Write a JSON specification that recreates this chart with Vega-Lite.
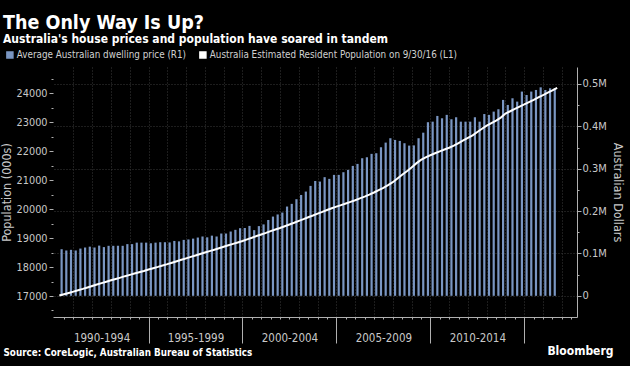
{
  "$schema": "https://vega.github.io/schema/vega-lite/v6.json",
  "width": 524,
  "height": 250,
  "autosize": {"type": "none"},
  "padding": {"left": 53, "top": 67, "right": 53, "bottom": 49},
  "background": "#000000",
  "title": {
    "text": "The Only Way Is Up?",
    "subtitle": "Australia's house prices and population have soared in tandem",
    "anchor": "start",
    "frame": "group",
    "dx": -50,
    "dy": 0
  },
  "data": {
    "values": [
      {"t": 1990.25, "pop": 17015},
      {"t": 1990.5, "price": 110000, "pop": 17060},
      {"t": 1990.75, "price": 107000, "pop": 17105},
      {"t": 1991, "price": 108500, "pop": 17150},
      {"t": 1991.25, "price": 107000, "pop": 17200},
      {"t": 1991.5, "price": 111500, "pop": 17245},
      {"t": 1991.75, "price": 114000, "pop": 17295},
      {"t": 1992, "price": 116000, "pop": 17345},
      {"t": 1992.25, "price": 114000, "pop": 17395},
      {"t": 1992.5, "price": 118500, "pop": 17445},
      {"t": 1992.75, "price": 115000, "pop": 17495},
      {"t": 1993, "price": 118000, "pop": 17545},
      {"t": 1993.25, "price": 118000, "pop": 17590},
      {"t": 1993.5, "price": 118000, "pop": 17635},
      {"t": 1993.75, "price": 118000, "pop": 17685},
      {"t": 1994, "price": 122000, "pop": 17730},
      {"t": 1994.25, "price": 122000, "pop": 17775},
      {"t": 1994.5, "price": 125500, "pop": 17820},
      {"t": 1994.75, "price": 125500, "pop": 17865},
      {"t": 1995, "price": 125500, "pop": 17915},
      {"t": 1995.25, "price": 124000, "pop": 17960},
      {"t": 1995.5, "price": 125500, "pop": 18005},
      {"t": 1995.75, "price": 126500, "pop": 18055},
      {"t": 1996, "price": 126500, "pop": 18100},
      {"t": 1996.25, "price": 126000, "pop": 18150},
      {"t": 1996.5, "price": 129500, "pop": 18200},
      {"t": 1996.75, "price": 128500, "pop": 18250},
      {"t": 1997, "price": 132000, "pop": 18300},
      {"t": 1997.25, "price": 133000, "pop": 18350},
      {"t": 1997.5, "price": 135000, "pop": 18400},
      {"t": 1997.75, "price": 137500, "pop": 18450},
      {"t": 1998, "price": 140000, "pop": 18500},
      {"t": 1998.25, "price": 138000, "pop": 18550},
      {"t": 1998.5, "price": 142000, "pop": 18600},
      {"t": 1998.75, "price": 140000, "pop": 18650},
      {"t": 1999, "price": 147000, "pop": 18700},
      {"t": 1999.25, "price": 147000, "pop": 18750},
      {"t": 1999.5, "price": 151700, "pop": 18800},
      {"t": 1999.75, "price": 155700, "pop": 18850},
      {"t": 2000, "price": 159600, "pop": 18900},
      {"t": 2000.25, "price": 160000, "pop": 18955},
      {"t": 2000.5, "price": 165000, "pop": 19010},
      {"t": 2000.75, "price": 155000, "pop": 19070},
      {"t": 2001, "price": 164500, "pop": 19125},
      {"t": 2001.25, "price": 168500, "pop": 19180},
      {"t": 2001.5, "price": 179000, "pop": 19240},
      {"t": 2001.75, "price": 187000, "pop": 19295},
      {"t": 2002, "price": 192000, "pop": 19350},
      {"t": 2002.25, "price": 196500, "pop": 19410},
      {"t": 2002.5, "price": 210700, "pop": 19470},
      {"t": 2002.75, "price": 217000, "pop": 19530},
      {"t": 2003, "price": 228000, "pop": 19595},
      {"t": 2003.25, "price": 238000, "pop": 19655},
      {"t": 2003.5, "price": 246000, "pop": 19720},
      {"t": 2003.75, "price": 259400, "pop": 19780},
      {"t": 2004, "price": 271000, "pop": 19845},
      {"t": 2004.25, "price": 269600, "pop": 19905},
      {"t": 2004.5, "price": 280000, "pop": 19970},
      {"t": 2004.75, "price": 276000, "pop": 20030},
      {"t": 2005, "price": 285400, "pop": 20085},
      {"t": 2005.25, "price": 285400, "pop": 20140},
      {"t": 2005.5, "price": 291700, "pop": 20195},
      {"t": 2005.75, "price": 297200, "pop": 20250},
      {"t": 2006, "price": 306600, "pop": 20305},
      {"t": 2006.25, "price": 311300, "pop": 20370},
      {"t": 2006.5, "price": 324700, "pop": 20430},
      {"t": 2006.75, "price": 327000, "pop": 20500},
      {"t": 2007, "price": 335000, "pop": 20575},
      {"t": 2007.25, "price": 336500, "pop": 20655},
      {"t": 2007.5, "price": 350600, "pop": 20735},
      {"t": 2007.75, "price": 361600, "pop": 20830},
      {"t": 2008, "price": 371900, "pop": 20930},
      {"t": 2008.25, "price": 367900, "pop": 21060},
      {"t": 2008.5, "price": 365600, "pop": 21190},
      {"t": 2008.75, "price": 360100, "pop": 21310},
      {"t": 2009, "price": 354500, "pop": 21440},
      {"t": 2009.25, "price": 355000, "pop": 21580},
      {"t": 2009.5, "price": 371900, "pop": 21700},
      {"t": 2009.75, "price": 385000, "pop": 21790},
      {"t": 2010, "price": 409700, "pop": 21860},
      {"t": 2010.25, "price": 411000, "pop": 21930},
      {"t": 2010.5, "price": 424500, "pop": 21995},
      {"t": 2010.75, "price": 419000, "pop": 22060},
      {"t": 2011, "price": 427000, "pop": 22120},
      {"t": 2011.25, "price": 416700, "pop": 22190},
      {"t": 2011.5, "price": 421400, "pop": 22280},
      {"t": 2011.75, "price": 411000, "pop": 22370},
      {"t": 2012, "price": 411000, "pop": 22460},
      {"t": 2012.25, "price": 411000, "pop": 22550},
      {"t": 2012.5, "price": 421400, "pop": 22665},
      {"t": 2012.75, "price": 411000, "pop": 22775},
      {"t": 2013, "price": 429000, "pop": 22880},
      {"t": 2013.25, "price": 427000, "pop": 22970},
      {"t": 2013.5, "price": 434700, "pop": 23060},
      {"t": 2013.75, "price": 440300, "pop": 23160},
      {"t": 2014, "price": 462300, "pop": 23300},
      {"t": 2014.25, "price": 450500, "pop": 23380},
      {"t": 2014.5, "price": 466200, "pop": 23460},
      {"t": 2014.75, "price": 458300, "pop": 23540},
      {"t": 2015, "price": 482000, "pop": 23615},
      {"t": 2015.25, "price": 474000, "pop": 23695},
      {"t": 2015.5, "price": 482000, "pop": 23775},
      {"t": 2015.75, "price": 485800, "pop": 23860},
      {"t": 2016, "price": 492000, "pop": 23940},
      {"t": 2016.25, "price": 485800, "pop": 24020},
      {"t": 2016.5, "price": 489800, "pop": 24100},
      {"t": 2016.75, "price": 489800, "pop": 24185}
    ]
  },
  "layer": [
    {
      "mark": {"type": "bar", "width": 2.2, "xOffset": -2.4},
      "encoding": {
        "x": {
          "field": "t",
          "type": "quantitative",
          "scale": {"domain": [1990.18, 2017.54], "nice": false, "zero": false},
          "axis": {
            "orient": "bottom",
            "title": "Source: CoreLogic, Australian Bureau of Statistics",
            "titleAnchor": "start",
            "titleAlign": "left",
            "titleBaseline": "middle",
            "titleX": -50,
            "titleY": 35,
            "titleFontSize": 9.8,
            "titleFontWeight": "bold",
            "titleColor": "#ffffff",
            "values": [1990.5, 1991, 1991.5, 1992, 1992.5, 1993, 1993.5, 1994, 1994.5, 1995, 1995.5, 1996, 1996.5, 1997, 1997.5, 1998, 1998.5, 1999, 1999.5, 2000, 2000.5, 2001, 2001.5, 2002, 2002.5, 2003, 2003.5, 2004, 2004.5, 2005, 2005.5, 2006, 2006.5, 2007, 2007.5, 2008, 2008.5, 2009, 2009.5, 2010, 2010.5, 2011, 2011.5, 2012, 2012.5, 2013, 2013.5, 2014, 2014.5, 2015, 2015.5, 2016, 2016.5, 2017, 2017.5],
            "labelExpr": "datum.value == 1992.5 ? '1990-1994' : datum.value == 1997.5 ? '1995-1999' : datum.value == 2002.5 ? '2000-2004' : datum.value == 2007.5 ? '2005-2009' : datum.value == 2012.5 ? '2010-2014' : ''",
            "labelOverlap": false,
            "labelFlush": false,
            "labelFontSize": 11.5,
            "labelPadding": 13,
            "tickSize": {"condition": {"test": "datum.value % 5 == 0", "value": 26}, "value": 2},
            "grid": true,
            "gridOpacity": {"condition": {"test": "datum.value % 1 == 0", "value": 1}, "value": 0}
          }
        },
        "y": {
          "field": "price",
          "type": "quantitative",
          "scale": {"domain": [-50000, 540000], "nice": false},
          "axis": {
            "orient": "right",
            "title": "Australian Dollars",
            "titleFontSize": 12.5,
            "values": [0, 50000, 100000, 150000, 200000, 250000, 300000, 350000, 400000, 450000, 500000],
            "labelExpr": "datum.value == 0 ? '0' : datum.value % 100000 == 0 ? format(datum.value / 1000000, '.1f') + 'M' : ''",
            "tickSize": {"condition": {"test": "datum.value % 100000 == 0", "value": 4}, "value": 2},
            "labelPadding": 1,
            "labelFontSize": 11,
            "grid": true,
            "gridOpacity": {"condition": {"test": "datum.value % 100000 == 0", "value": 1}, "value": 0}
          }
        },
        "color": {
          "datum": "Average Australian dwelling price (R1)",
          "scale": {
            "domain": ["Average Australian dwelling price (R1)", "Australia Estimated Resident Population  on 9/30/16 (L1)"],
            "range": ["#7a96c2", "#ffffff"]
          },
          "legend": {
            "orient": "none",
            "legendX": -48,
            "legendY": -17,
            "direction": "horizontal",
            "title": null,
            "symbolType": "square",
            "symbolSize": 36,
            "labelFontSize": 9.8,
            "labelColor": "#d0d0d0",
            "columnPadding": 9,
            "labelOffset": 2,
            "labelLimit": 400,
            "encode": {"symbols": {"update": {"fill": {"scale": "color", "field": "value"}, "stroke": {"value": "transparent"}}}}
          }
        }
      }
    },
    {
      "mark": {"type": "line", "strokeWidth": 2},
      "encoding": {
        "x": {
          "field": "t",
          "type": "quantitative",
          "axis": {
            "orient": "bottom",
            "title": "Bloomberg",
            "domain": false,
            "ticks": false,
            "labels": false,
            "grid": false,
            "titleAnchor": "start",
            "titleAlign": "right",
            "titleBaseline": "middle",
            "titleX": 560,
            "titleY": 33,
            "titleFontSize": 12,
            "titleFontWeight": "bold",
            "titleColor": "#ffffff"
          }
        },
        "y": {
          "field": "pop",
          "type": "quantitative",
          "scale": {"domain": [16275, 24908], "nice": false, "zero": false},
          "axis": {
            "orient": "left",
            "title": "Population (000s)",
            "titleFontSize": 12.5,
            "titleAngle": -90,
            "titleAlign": "center",
            "titleBaseline": "middle",
            "titleX": -47,
            "titleY": 125,
            "values": [16500, 17000, 17500, 18000, 18500, 19000, 19500, 20000, 20500, 21000, 21500, 22000, 22500, 23000, 23500, 24000, 24500],
            "labelExpr": "datum.value % 1000 == 0 ? format(datum.value, 'd') : ''",
            "tickSize": {"condition": {"test": "datum.value % 1000 == 0", "value": 4}, "value": 2},
            "labelPadding": 2,
            "labelFontSize": 10.8,
            "domain": false,
            "grid": false
          }
        },
        "color": {"datum": "Australia Estimated Resident Population  on 9/30/16 (L1)"}
      }
    }
  ],
  "resolve": {"scale": {"y": "independent"}, "axis": {"x": "independent"}},
  "config": {
    "font": "DejaVu Sans Condensed, DejaVu Sans",
    "view": {"stroke": null},
    "axis": {
      "labelFont": "DejaVu Sans Condensed, DejaVu Sans",
      "titleFont": "DejaVu Sans Condensed, DejaVu Sans",
      "labelColor": "#c8c8c8",
      "titleColor": "#c8c8c8",
      "titleFontWeight": "normal",
      "tickColor": "#b0b0b0",
      "domainColor": "#b0b0b0",
      "gridColor": "#3a3a3a",
      "gridDash": [1, 2]
    },
    "legend": {"labelFont": "DejaVu Sans Condensed, DejaVu Sans"},
    "title": {
      "font": "DejaVu Sans Condensed, DejaVu Sans",
      "fontSize": 19.5,
      "fontWeight": "bold",
      "color": "#ffffff",
      "subtitleFont": "DejaVu Sans Condensed, DejaVu Sans",
      "subtitleFontSize": 12,
      "subtitleFontWeight": "bold",
      "subtitleColor": "#ffffff",
      "subtitlePadding": 1
    }
  }
}
